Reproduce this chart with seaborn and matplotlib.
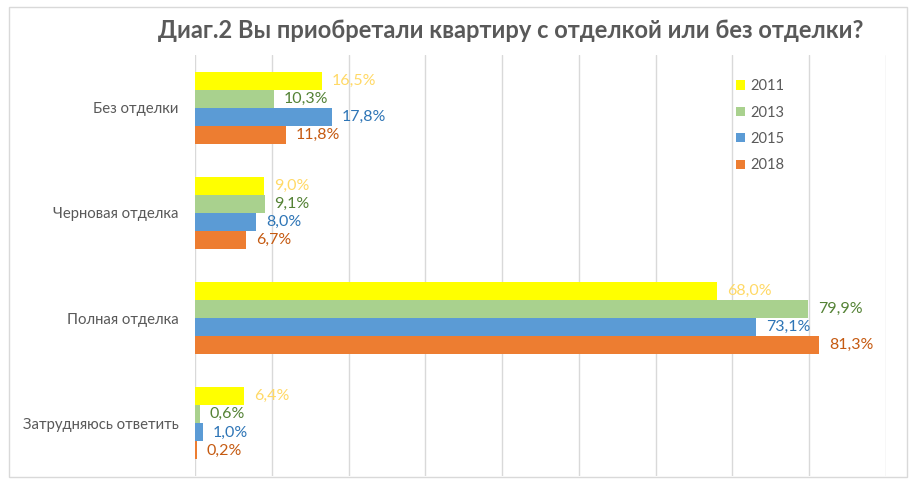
import numpy as np
import pandas as pd
import matplotlib
matplotlib.use("Agg")
import matplotlib.pyplot as plt
from matplotlib.patches import Patch, Rectangle
import seaborn as sns

# data (percent)
categories = ["Без отделки", "Черновая отделка", "Полная отделка", "Затрудняюсь ответить"]
years = ["2011", "2013", "2015", "2018"]
v2011 = [16.5, 9.0, 68.0, 6.4]
v2013 = [10.3, 9.1, 79.9, 0.6]
v2015 = [17.8, 8.0, 73.1, 1.0]
v2018 = [11.8, 6.7, 81.3, 0.2]

bar_colors = ["#FFFF00", "#A9D18E", "#5B9BD5", "#ED7D31"]
label_colors = ["#FFD966", "#548235", "#2E75B6", "#C55A11"]

rows = []
for year, vals in zip(years, [v2011, v2013, v2015, v2018]):
    for cat, v in zip(categories, vals):
        rows.append({"category": cat, "year": year, "value": v})
df = pd.DataFrame(rows)

sns.set_theme(style="white")
plt.rcParams["font.family"] = ["Lato", "DejaVu Sans"]

W, H = 916, 482
fig = plt.figure(figsize=(W / 100, H / 100), dpi=100)
ax = fig.add_axes([195 / W, 1 - 476 / H, (886 - 195) / W, (476 - 55) / H])

sns.barplot(data=df, x="value", y="category", hue="year", order=categories,
            hue_order=years, palette=bar_colors, saturation=1, width=0.686, gap=0,
            linewidth=0, orient="h", ax=ax, legend=False)

for cont, col in zip(ax.containers, label_colors):
    labels = [f"{b.get_width():.1f}%".replace(".", ",") for b in cont]
    ax.bar_label(cont, labels=labels, padding=7, color=col, fontsize=11.5)

ax.set_xlim(0, 90)
ax.set_ylim(3.5, -0.5)
ax.set_xticks(np.arange(0, 91, 10))
ax.set_xticklabels([])
ax.xaxis.grid(True, color="#D9D9D9", linewidth=1)
ax.set_axisbelow(True)
ax.tick_params(axis="both", length=0)
ax.tick_params(axis="y", pad=12, labelsize=10.7, labelcolor="#595959")
ax.set_xlabel("")
ax.set_ylabel("")
for s in ax.spines.values():
    s.set_visible(False)

handles = [Patch(facecolor=c, edgecolor="none", label=y) for c, y in zip(bar_colors, years)]
fig.legend(handles=handles, loc="upper left", bbox_to_anchor=(723 / W, 1 - 66 / H),
           frameon=False, handlelength=0.6, handleheight=0.6, handletextpad=0.4,
           labelspacing=0.85, fontsize=10.5, labelcolor="#595959")

fig.text(511 / W, 1 - 30 / H, "Диаг.2 Вы приобретали квартиру с отделкой или без отделки?",
         ha="center", va="center", fontsize=17, fontweight="bold", color="#595959")

fig.patches.append(Rectangle((9 / W, 1 - 477 / H), (907 - 9) / W, (477 - 7) / H,
                             transform=fig.transFigure, fill=False,
                             edgecolor="#D9D9D9", linewidth=1))

fig.savefig("out.png", dpi=100)
